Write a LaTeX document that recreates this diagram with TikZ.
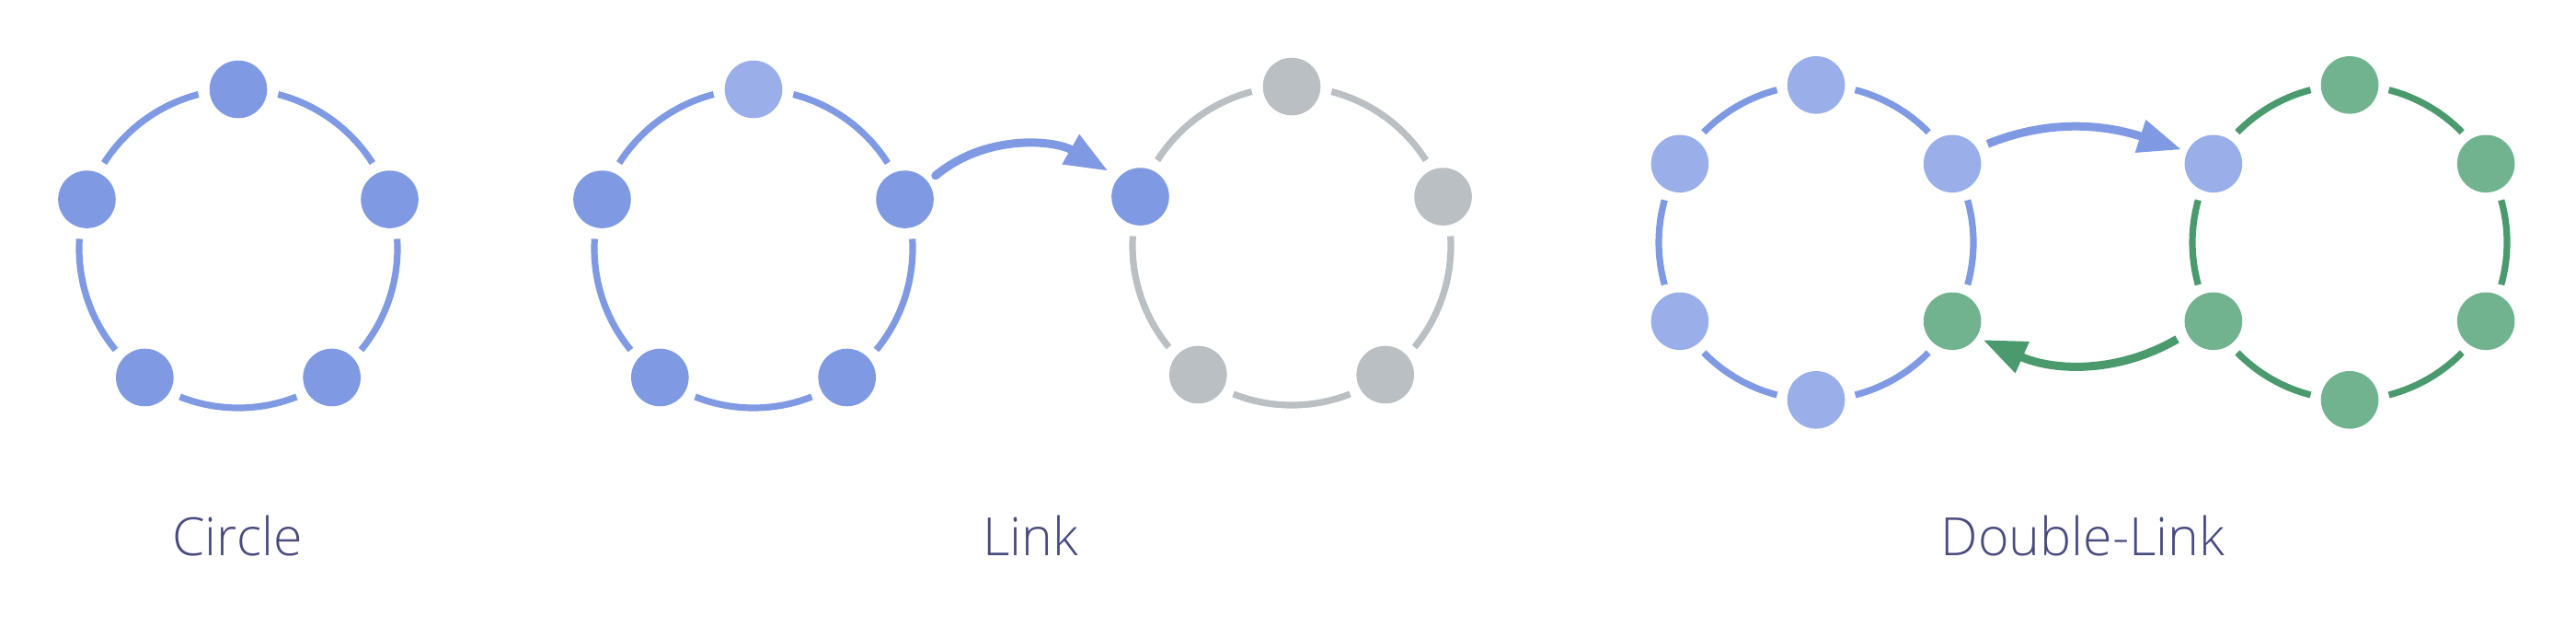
\documentclass[tikz,border=0pt]{standalone}
\usepackage{fontspec}
\IfFontExistsTF{Open Sans Light}{\setmainfont{Open Sans Light}}{\setmainfont{Open Sans}}
\usetikzlibrary{positioning,arrows.meta,calc}
\definecolor{RgBlue}{HTML}{7F9AE3}
\definecolor{RgLight}{HTML}{9AAFEA}
\definecolor{RgGray}{HTML}{BABFC3}
\definecolor{RgGreen}{HTML}{72B38F}
\definecolor{RgGreenDk}{HTML}{4A9A6E}
\definecolor{RgText}{HTML}{494B7E}

\begin{document}
\begin{tikzpicture}[
    ringnode/.style={circle,draw=none,inner sep=0pt,minimum size=6.26mm},
    ringarc/.style={line width=0.72mm},
    linkarrow/.style={line width=0.9mm,-{Triangle[length=4.7mm,width=3.5mm]}},
    caption/.style={font=\fontsize{16.3}{20}\selectfont,text=RgText,anchor=base}]
  \useasboundingbox (0,0) rectangle (28,-6.8);

  % Circle
  \coordinate (cc) at (2.59,-2.70);
  \foreach \a/\col [count=\i] in {90/RgBlue,162/RgBlue,234/RgBlue,306/RgBlue,18/RgBlue}
    \node[ringnode,fill=\col] (c\i) at ($(cc)+(\a:1.73)$) {};
  \foreach \a [count=\i] in {90,162,234,306,18}
    \draw[ringarc,RgBlue] ($(cc)!1!14.5:(c\i.center)$) arc[start angle=\a+14.5,delta angle=43,radius=1.73];
  \node[caption] (capc) at (2.58,-6.03) {Circle};

  % Link
  \coordinate (lc) at (8.19,-2.70);
  \coordinate (gc) at (14.04,-2.67);
  \foreach \a/\col [count=\i] in {90/RgLight,162/RgBlue,234/RgBlue,306/RgBlue,18/RgBlue}
    \node[ringnode,fill=\col] (l\i) at ($(lc)+(\a:1.73)$) {};
  \foreach \a/\col [count=\i] in {90/RgGray,162/RgBlue,234/RgGray,306/RgGray,18/RgGray}
    \node[ringnode,fill=\col] (g\i) at ($(gc)+(\a:1.73)$) {};
  \foreach \a [count=\i] in {90,162,234,306,18} {
    \draw[ringarc,RgBlue] ($(lc)!1!14.5:(l\i.center)$) arc[start angle=\a+14.5,delta angle=43,radius=1.73];
    \draw[ringarc,RgGray] ($(gc)!1!14.5:(g\i.center)$) arc[start angle=\a+14.5,delta angle=43,radius=1.73];
  }
  \draw[linkarrow,RgBlue,line cap=round,shorten <=1mm,shorten >=1.3mm]
    (l5.37) to[out=40,in=150] (g2.138);
  \node[caption] (capl) at (11.20,-6.03) {Link};

  % Double-Link
  \coordinate (dlc) at (19.74,-2.633);
  \coordinate (drc) at (25.54,-2.633);
  \foreach \a/\col [count=\i] in {90/RgLight,150/RgLight,210/RgLight,270/RgLight,330/RgGreen,30/RgLight}
    \node[ringnode,fill=\col] (dl\i) at ($(dlc)+(\a:1.71)$) {};
  \foreach \a/\col [count=\i] in {90/RgGreen,150/RgLight,210/RgGreen,270/RgGreen,330/RgGreen,30/RgGreen}
    \node[ringnode,fill=\col] (dr\i) at ($(drc)+(\a:1.71)$) {};
  \foreach \a [count=\i] in {90,150,210,270,330,30} {
    \draw[ringarc,RgBlue] ($(dlc)!1!14.4:(dl\i.center)$) arc[start angle=\a+14.4,delta angle=31.2,radius=1.71];
    \draw[ringarc,RgGreenDk] ($(drc)!1!14.4:(dr\i.center)$) arc[start angle=\a+14.4,delta angle=31.2,radius=1.71];
  }
  \draw[linkarrow,RgBlue,shorten <=1.2mm,shorten >=0.6mm]
    (dl6.32) to[out=22,in=162] (dr2.155);
  \draw[linkarrow,RgGreenDk,shorten <=1.2mm,shorten >=0.7mm]
    (dr3.205) to[out=210,in=-24] (dl5.-33);
  \node[caption] (capd) at (22.64,-6.03) {Double-Link};
\end{tikzpicture}
\end{document}
